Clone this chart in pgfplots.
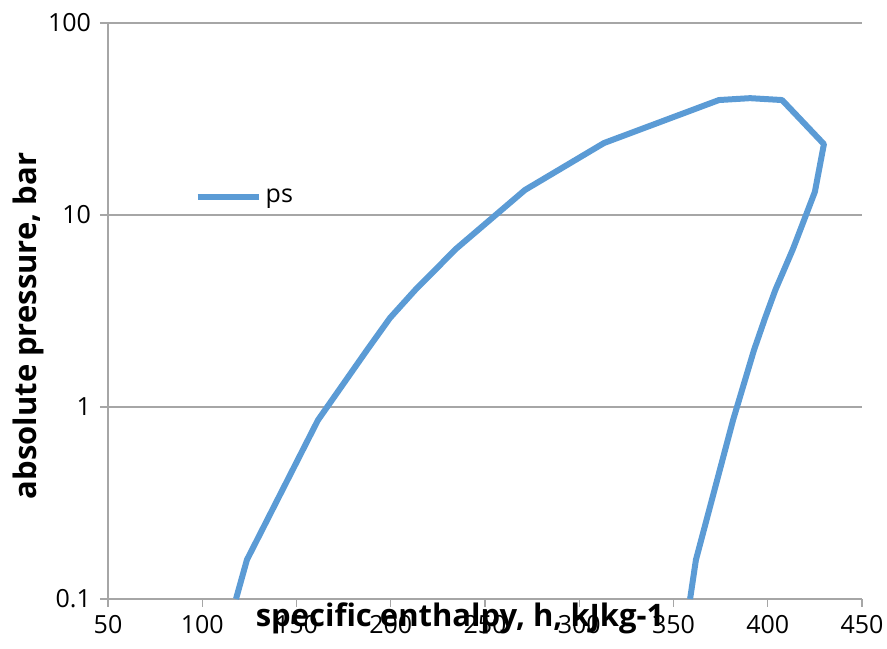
\documentclass[border=0pt]{standalone}
\usepackage{pgfplots}
\pgfplotsset{compat=1.18}
\usepackage{fontspec}
\setmainfont{Open Sans}
\definecolor{exblue}{HTML}{5B9BD5}
\definecolor{gridgray}{HTML}{A6A6A6}
\begin{document}
\begin{tikzpicture}
\useasboundingbox (-54pt,-24.5pt) rectangle (389.5pt,299.5pt);
\begin{axis}[
  at={(0,0)}, anchor=south west,
  scale only axis,
  width=377pt, height=288pt,
  xmin=50, xmax=450,
  ymode=log, ymin=0.1, ymax=100,
  xtick={50,100,...,450},
  ytick={0.1,1,10,100},
  yticklabels={0.1,1,10,100},
  minor ytick={}, yminorticks=false,
  axis lines*=left,
  axis line style={gridgray, line width=0.6pt},
  tick style={gridgray, line width=0.6pt},
  xtick align=outside, ytick align=outside,
  major tick length=4pt,
  ymajorgrids, grid style={gridgray, line width=0.6pt},
  tick label style={font=\fontsize{12.5}{14}\selectfont, text=black},
  /pgf/number format/assume math mode=true,
  xticklabel style={yshift=-0.5pt},
  yticklabel style={xshift=-1pt},
  xlabel={\textbf{specific enthalpy, h, kJkg-1}},
  xlabel style={at={(axis description cs:0.467,-0.033)}, anchor=center, font=\fontsize{15.5}{18}\selectfont},
  ylabel={\textbf{absolute pressure, bar}},
  ylabel style={at={(axis description cs:-0.106,0.474)}, anchor=center, rotate=0, font=\fontsize{15.5}{18}\selectfont},
  legend style={at={(axis description cs:0.115,0.698)}, anchor=west, draw=none, fill=none, inner sep=0pt, outer sep=0pt, font=\fontsize{12.5}{14}\selectfont, legend cell align=left},
  legend image code/.code={\draw[#1, line width=3pt] (0pt,0pt) -- (30.5pt,0pt);},
  legend style={/tikz/every even column/.append style={column sep=0pt}},
  clip=false,
]
\addplot[exblue, line width=3pt, line join=round] coordinates {
(117.9,0.1) (123.7,0.16) (161.4,0.855) (187.4,1.98) (199.6,2.91) (212.9,4.06)
(234.6,6.66) (271.2,13.5) (313.1,23.7) (374.1,39.7) (390.6,40.6) (407.6,39.7)
(429.8,23.4) (425.0,13.2) (413.4,6.66) (404.0,4.06) (398.6,2.91) (392.7,1.98)
(381.6,0.855) (361.9,0.16) (358.8,0.1)
};
\addlegendentry{ps}
\end{axis}
\end{tikzpicture}
\end{document}
